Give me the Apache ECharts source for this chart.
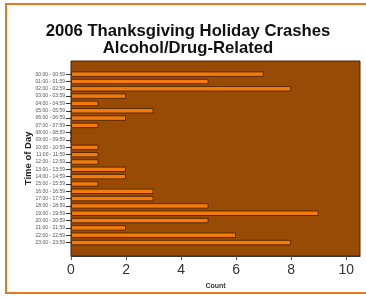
<!DOCTYPE html>
<html>
<head>
<meta charset="utf-8">
<script src="https://cdn.jsdelivr.net/npm/echarts@6/dist/echarts.min.js"></script>
<style>
  html, body { margin: 0; padding: 0; background: #fff; overflow: hidden; }
  #wrap { position: relative; width: 366px; height: 297px; overflow: hidden; }
  #frame {
    position: absolute; left: 5px; top: 3px; width: 400px; height: 287px;
    border: 2px solid #E8781E; border-right: none;
  }
  #main { position: absolute; left: 0; top: 0; width: 366px; height: 297px; }
</style>
</head>
<body>
<div id="wrap">
  <div id="frame"></div>
  <div id="main"></div>
</div>
<script>
// hour buckets, top to bottom
const hours = [
  "00:00 - 00:59", "01:00 - 01:59", "02:00 - 02:59", "03:00 - 03:59",
  "04:00 - 04:59", "05:00 - 05:59", "06:00 - 06:59", "07:00 - 07:59",
  "08:00 - 08:59", "09:00 - 09:59", "10:00 - 10:59", "11:00 - 11:59",
  "12:00 - 12:59", "13:00 - 13:59", "14:00 - 14:59", "15:00 - 15:59",
  "16:00 - 16:59", "17:00 - 17:59", "18:00 - 18:59", "19:00 - 19:59",
  "20:00 - 20:59", "21:00 - 21:59", "22:00 - 22:59", "23:00 - 23:59"
];
// crash counts per hour
const counts = [7, 5, 8, 2, 1, 3, 2, 1, 0, 0, 1, 1, 1, 2, 2, 1, 3, 3, 5, 9, 5, 2, 6, 8];
const xTicks = [0, 2, 4, 6, 8, 10];

const font = "'Liberation Sans', Arial, sans-serif";

let option = {
  animation: false,
  textStyle: { fontFamily: font },
  title: {
    text: "2006 Thanksgiving Holiday Crashes\nAlcohol/Drug-Related",
    left: 183,
    textAlign: "center",
    top: 18,
    textStyle: {
      fontFamily: font,
      fontSize: 16.7,
      fontWeight: "bold",
      color: "#111",
      lineHeight: 17,
    },
  },
  // grid 0 = the brown plot box with the count axis
  // grid 1 = inner area holding the bars (leaves padding above and below)
  grid: [
    {
      left: 71, right: 6, top: 61, bottom: 41,
      show: true,
      backgroundColor: "#974B05",
      borderColor: "#4a2200",
      borderWidth: 1,
    },
    {
      left: 71, right: 6, top: 70.5, bottom: 50.8,
    },
  ],
  xAxis: [
    {
      gridIndex: 0,
      type: "value",
      min: 0,
      max: 10.5,
      interval: 2,
      splitLine: { show: false },
      axisLine: { show: true, lineStyle: { color: "#333" } },
      axisTick: { show: true, length: 4, customValues: xTicks, lineStyle: { color: "#555" } },
      axisLabel: {
        customValues: xTicks,
        fontSize: 14,
        color: "#333",
        margin: 7,
        fontFamily: font,
      },
      name: "Count",
      nameLocation: "middle",
      nameGap: 27,
      nameMoveOverlap: false,
      nameTextStyle: { fontSize: 7, fontWeight: "bold", color: "#333", fontFamily: font },
    },
    {
      gridIndex: 1,
      type: "value",
      min: 0,
      max: 10.5,
      show: false,
    },
  ],
  yAxis: [
    {
      gridIndex: 0,
      type: "value",
      show: false,
    },
    {
      gridIndex: 1,
      type: "category",
      inverse: true,
      data: hours,
      axisLine: { show: false },
      axisTick: { show: true, length: 5, alignWithLabel: true, lineStyle: { color: "#333" } },
      axisLabel: { fontSize: 5, color: "#555", margin: 6, interval: 0, fontFamily: font },
      name: "Time of Day",
      nameLocation: "middle",
      nameGap: 38,
      nameMoveOverlap: false,
      nameTextStyle: { fontSize: 9.5, fontWeight: "bold", color: "#222", fontFamily: font },
    },
  ],
  series: [
    {
      name: "Count",
      type: "bar",
      xAxisIndex: 1,
      yAxisIndex: 1,
      barWidth: "75%",
      itemStyle: {
        color: "#F27B0C",
        borderColor: "#5e2a00",
        borderWidth: 1,
      },
      data: counts,
    },
  ],
};

var myChart = echarts.init(document.getElementById("main"));
myChart.setOption(option);
</script>
</body>
</html>
